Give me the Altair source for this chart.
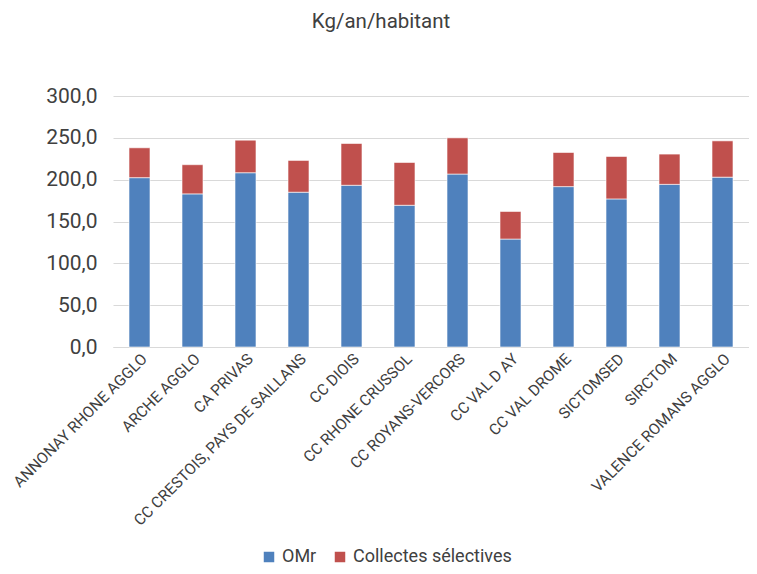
import altair as alt
import pandas as pd

categories = ["ANNONAY RHONE AGGLO", "ARCHE AGGLO", "CA PRIVAS",
              "CC CRESTOIS, PAYS DE SAILLANS", "CC DIOIS", "CC RHONE CRUSSOL",
              "CC ROYANS-VERCORS", "CC VAL D AY", "CC VAL DROME", "SICTOMSED",
              "SIRCTOM", "VALENCE ROMANS AGGLO"]
omr = [202.4, 183.0, 208.3, 185.0, 193.3, 169.4, 206.7, 129.0, 191.7, 177.0, 194.4, 203.0]
collectes = [35.7, 34.9, 38.9, 38.0, 50.0, 51.2, 43.3, 33.0, 40.8, 50.8, 36.2, 43.4]
series = ["OMr", "Collectes sélectives"]
colors = ["#4F81BD", "#C0504D"]

rows = []
for c, a, b in zip(categories, omr, collectes):
    rows.append({"cat": c, "serie": series[0], "val": a, "ord": 0})
    rows.append({"cat": c, "serie": series[1], "val": b, "ord": 1})
df = pd.DataFrame(rows)

font = "Roboto"
chart = alt.Chart(df).mark_bar(size=21, stroke="white", strokeWidth=0.6).encode(
    x=alt.X("cat:N", sort=categories, title=None,
            scale=alt.Scale(paddingInner=0.6, paddingOuter=0.3),
            axis=alt.Axis(labelAngle=-45, labelAlign="right", labelBaseline="top",
                          labelFontSize=15.5, labelColor="#404040", labelFont=font,
                          ticks=False, domain=True, domainColor="#d9d9d9",
                          labelPadding=4, labelLimit=300, labelOverlap=False)),
    y=alt.Y("val:Q", stack="zero", title=None,
            scale=alt.Scale(domain=[0, 300], nice=False),
            axis=alt.Axis(values=[0, 50, 100, 150, 200, 250, 300],
                          labelExpr="replace(format(datum.value, '.1f'), '.', ',')",
                          labelFontSize=21, labelColor="#404040", labelFont=font,
                          ticks=False, domain=False, gridColor="#d9d9d9",
                          labelPadding=16)),
    color=alt.Color("serie:N", scale=alt.Scale(domain=series, range=colors),
                    sort=series,
                    legend=alt.Legend(title=None, orient="none", direction="horizontal",
                                      legendX=147, legendY=452, symbolType="square",
                                      symbolSize=110, symbolStrokeWidth=0,
                                      labelFontSize=18, labelFont=font,
                                      labelColor="#404040", columnPadding=14)),
    order=alt.Order("ord:Q", sort="ascending"),
).properties(
    width=636, height=251,
    title=alt.TitleParams("Kg/an/habitant", font=font, fontSize=20.5, fontWeight="normal",
                          color="#404040", offset=53, anchor="middle", dx=-50),
    autosize=alt.AutoSizeParams(type="none"),
    padding={"left": 105, "top": 88, "right": 0, "bottom": 219},
).configure_view(stroke=None)

chart.save("out.html", embed_options={"renderer": "svg", "actions": False})
